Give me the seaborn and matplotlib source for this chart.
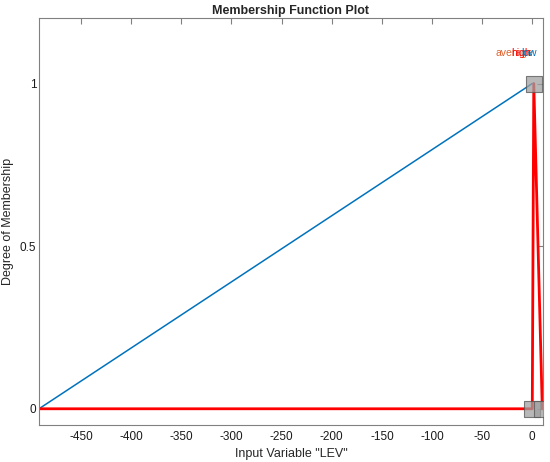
import numpy as np
import pandas as pd
import seaborn as sns
import matplotlib.pyplot as plt

# membership functions of input "LEV"
low_x = [-492, 0]
low_y = [0, 1]
high_x = [-492, 0, 1.5, 10, 10.5]
high_y = [0, 0, 1, 0, 0]
handle_x = [0, 1.5, 10]
handle_y = [0, 1, 0]

mf_names = ['average', 'high', 'low']
mf_label_x = [-18, -11.5, -3]
mf_colors = ['#E0622E', '#FF0000', '#0072BD']

x_range = [-492, 10.5]
y_range = [-0.05, 1.2]

sns.set_style('white')
plt.rcParams['font.family'] = ['Liberation Sans', 'DejaVu Sans']
plt.rcParams['axes.unicode_minus'] = False

fig = plt.figure(figsize=(5.5, 4.62), dpi=100)
ax = fig.add_axes([0.0709, 0.080, 0.916, 0.880])

low = pd.DataFrame({'x': low_x, 'y': low_y})
high = pd.DataFrame({'x': high_x, 'y': high_y})
handles = pd.DataFrame({'x': handle_x, 'y': handle_y})

sns.lineplot(data=low, x='x', y='y', sort=False, estimator=None,
             color='#0072BD', linewidth=1.1, ax=ax)
sns.lineplot(data=high, x='x', y='y', sort=False, estimator=None,
             color='#FF0000', linewidth=2.0, ax=ax)
sns.scatterplot(data=handles, x='x', y='y', marker='s', s=120,
                color='#A0A0A0', alpha=0.75, edgecolor='#555555',
                linewidth=0.8, ax=ax, zorder=5)

for name, xx, cc in zip(mf_names, mf_label_x, mf_colors):
    ax.text(xx, 1.095, name, color=cc, ha='center', va='center', fontsize=7.5)

ax.set_xlim(x_range)
ax.set_ylim(y_range)
ax.set_xticks(np.arange(-450, 1, 50))
ax.set_yticks([0, 0.5, 1])
ax.set_yticklabels(['0', '0.5', '1'])
ax.tick_params(direction='in', length=4, top=True, right=True,
               labelsize=8.5, color='#808080', labelcolor='#1a1a1a')
ax.tick_params(axis='x', pad=4)
ax.tick_params(axis='y', pad=2)
for sp in ax.spines.values():
    sp.set_color('#808080')
    sp.set_linewidth(0.8)

ax.set_title('Membership Function Plot', fontsize=9, fontweight='bold', pad=3)
ax.set_xlabel('Input Variable "LEV"', fontsize=9, labelpad=4)
ax.set_ylabel('Degree of Membership', fontsize=9, labelpad=4)

fig.savefig('out.png', dpi=100)
